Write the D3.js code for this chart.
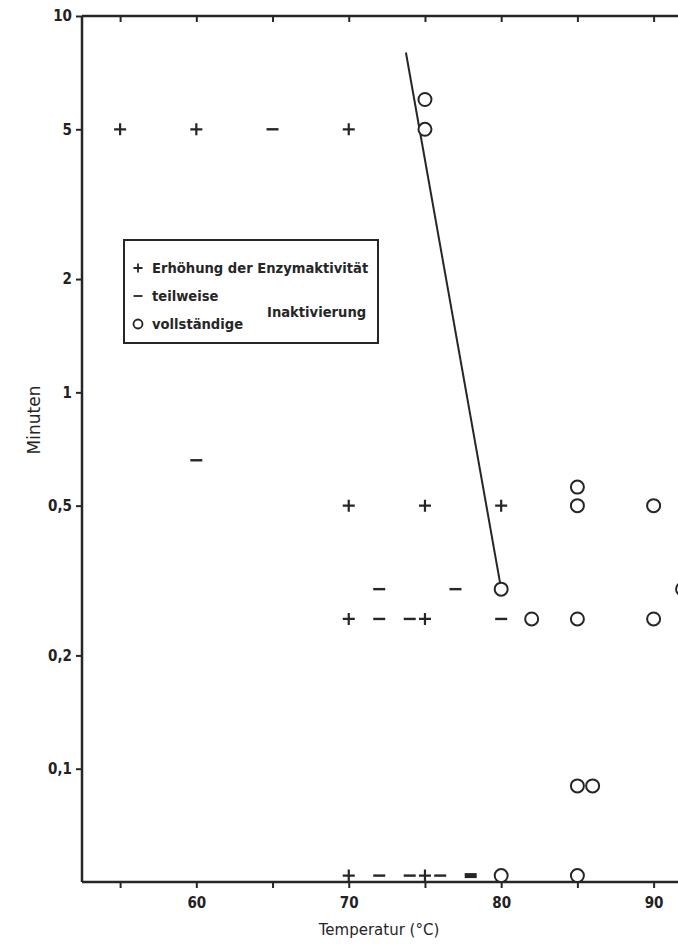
<!DOCTYPE html>
<html>
<head>
<meta charset="utf-8">
<script src="https://cdn.jsdelivr.net/npm/d3@7"></script>
<style>
  body { margin: 0; background: #fff; }
  svg { display: block; }
  .tick text { font-family: "DejaVu Sans Condensed", "Liberation Sans Narrow", "DejaVu Sans", sans-serif; font-weight: bold; font-size: 15px; fill: #222; }
</style>
</head>
<body>
<script>
// values (temperature in °C, time in minutes)
const plusTemp = [55, 60, 70, 70, 75, 80, 70, 75, 70, 75];
const plusMin = [5, 5, 5, 0.5, 0.5, 0.5, 0.25, 0.25, 0.052, 0.052];

const minusTemp = [65, 60, 72, 77, 72, 74, 80, 72, 74, 76, 78];
const minusMin = [5, 0.66, 0.3, 0.3, 0.25, 0.25, 0.25, 0.052, 0.052, 0.052, 0.052];

const circleTemp = [75, 75, 85, 85, 90, 80, 91.9, 82, 85, 90, 85, 86, 80, 85];
const circleMin = [6, 5, 0.56, 0.5, 0.5, 0.3, 0.3, 0.25, 0.25, 0.25, 0.09, 0.09, 0.052, 0.052];

const lineTemp = [73.75, 80];
const lineMin = [8, 0.3];

const yTicks = [0.1, 0.2, 0.5, 1, 2, 5, 10];
const xTicks = [55, 60, 65, 70, 75, 80, 85, 90];
const xLabels = [60, 70, 80, 90];

const legendItems = ["Erhöhung der Enzymaktivität", "teilweise", "vollständige"];

const width = 678;
const height = 944;
const ink = "#262626";
const condensed = '"DejaVu Sans Condensed", "Liberation Sans Narrow", "DejaVu Sans", sans-serif';

const x = d3.scaleLinear().domain([52.5, 91.6]).range([82, 678]);
const y = d3.scaleLog().domain([0.05, 10]).range([882, 16]);

const svg = d3.select("body")
  .append("svg")
  .attr("width", width)
  .attr("height", height);

// axes
const gLeft = svg.append("g")
  .attr("transform", `translate(${x.range()[0]},0)`)
  .call(d3.axisLeft(y)
    .tickValues(yTicks)
    .tickSize(6)
    .tickPadding(4)
    .tickFormat(d => String(d).replace(".", ",")));

const gTop = svg.append("g")
  .attr("transform", `translate(0,${y.range()[1]})`)
  .call(d3.axisTop(x).tickValues(xTicks).tickSize(-6).tickFormat(""));

const gBottom = svg.append("g")
  .attr("transform", `translate(0,${y.range()[0]})`)
  .call(d3.axisBottom(x)
    .tickValues(xTicks)
    .tickSize(6)
    .tickPadding(9)
    .tickFormat(d => xLabels.includes(d) ? d : ""));

[gLeft, gTop, gBottom].forEach(g => {
  g.select(".domain").attr("stroke", ink).attr("stroke-width", 2.5);
  g.selectAll(".tick line").attr("stroke", ink).attr("stroke-width", 2);
});
gTop.select(".domain").attr("d", `M${x.range()[0]},0H${width}`);
gBottom.select(".domain").attr("d", `M${x.range()[0]},0H${width}`);
gLeft.select(".domain").attr("d", `M0,${y.range()[1]}V${y.range()[0]}`);

// axis titles
svg.append("text")
  .attr("x", 379)
  .attr("y", 935)
  .attr("text-anchor", "middle")
  .attr("font-family", "DejaVu Sans, sans-serif")
  .attr("font-size", 15)
  .attr("fill", ink)
  .text("Temperatur (°C)");

svg.append("text")
  .attr("transform", "translate(40,420) rotate(-90)")
  .attr("text-anchor", "middle")
  .attr("font-family", "DejaVu Sans, sans-serif")
  .attr("font-size", 17)
  .attr("fill", ink)
  .text("Minuten");

// regression line
svg.append("path")
  .attr("fill", "none")
  .attr("stroke", ink)
  .attr("stroke-width", 2)
  .attr("d", d3.line().x(d => x(d[0])).y(d => y(d[1]))(d3.zip(lineTemp, lineMin)));

// markers
const plusPath = "M-6,0H6M0,-6V6";
const minusPath = "M-6,0H6";

svg.append("g")
  .selectAll("path")
  .data(d3.zip(plusTemp, plusMin))
  .join("path")
  .attr("transform", d => `translate(${x(d[0])},${y(d[1])})`)
  .attr("d", plusPath)
  .attr("stroke", ink)
  .attr("stroke-width", 2.2);

svg.append("g")
  .selectAll("path")
  .data(d3.zip(minusTemp, minusMin))
  .join("path")
  .attr("transform", d => `translate(${x(d[0])},${y(d[1])})`)
  .attr("d", minusPath)
  .attr("stroke", ink)
  .attr("stroke-width", (d, i) => i === minusTemp.length - 1 ? 5 : 2.4);

svg.append("g")
  .selectAll("circle")
  .data(d3.zip(circleTemp, circleMin))
  .join("circle")
  .attr("cx", d => x(d[0]))
  .attr("cy", d => y(d[1]))
  .attr("r", 6.5)
  .attr("fill", "#fff")
  .attr("stroke", ink)
  .attr("stroke-width", 2);

// legend
const legend = svg.append("g").attr("transform", "translate(124,240)");
legend.append("rect")
  .attr("width", 254)
  .attr("height", 103)
  .attr("fill", "#fff")
  .attr("stroke", ink)
  .attr("stroke-width", 2);

const rowY = [28, 56, 84];
const symbols = [plusPath, minusPath, null];
legendItems.forEach((label, i) => {
  const row = legend.append("g").attr("transform", `translate(14,${rowY[i]})`);
  if (symbols[i]) {
    row.append("path").attr("d", symbols[i]).attr("transform", "scale(0.75)")
      .attr("stroke", ink).attr("stroke-width", 2.4);
  } else {
    row.append("circle").attr("r", 4.5).attr("fill", "none")
      .attr("stroke", ink).attr("stroke-width", 1.8);
  }
  row.append("text")
    .attr("x", 14)
    .attr("dy", "0.35em")
    .attr("font-family", condensed)
    .attr("font-weight", "bold")
    .attr("font-size", 14.6)
    .attr("fill", ink)
    .text(label);
});
legend.append("text")
  .attr("x", 143)
  .attr("y", 72)
  .attr("dy", "0.35em")
  .attr("font-family", condensed)
  .attr("font-weight", "bold")
  .attr("font-size", 14.6)
  .attr("fill", ink)
  .text("Inaktivierung");
</script>
</body>
</html>
